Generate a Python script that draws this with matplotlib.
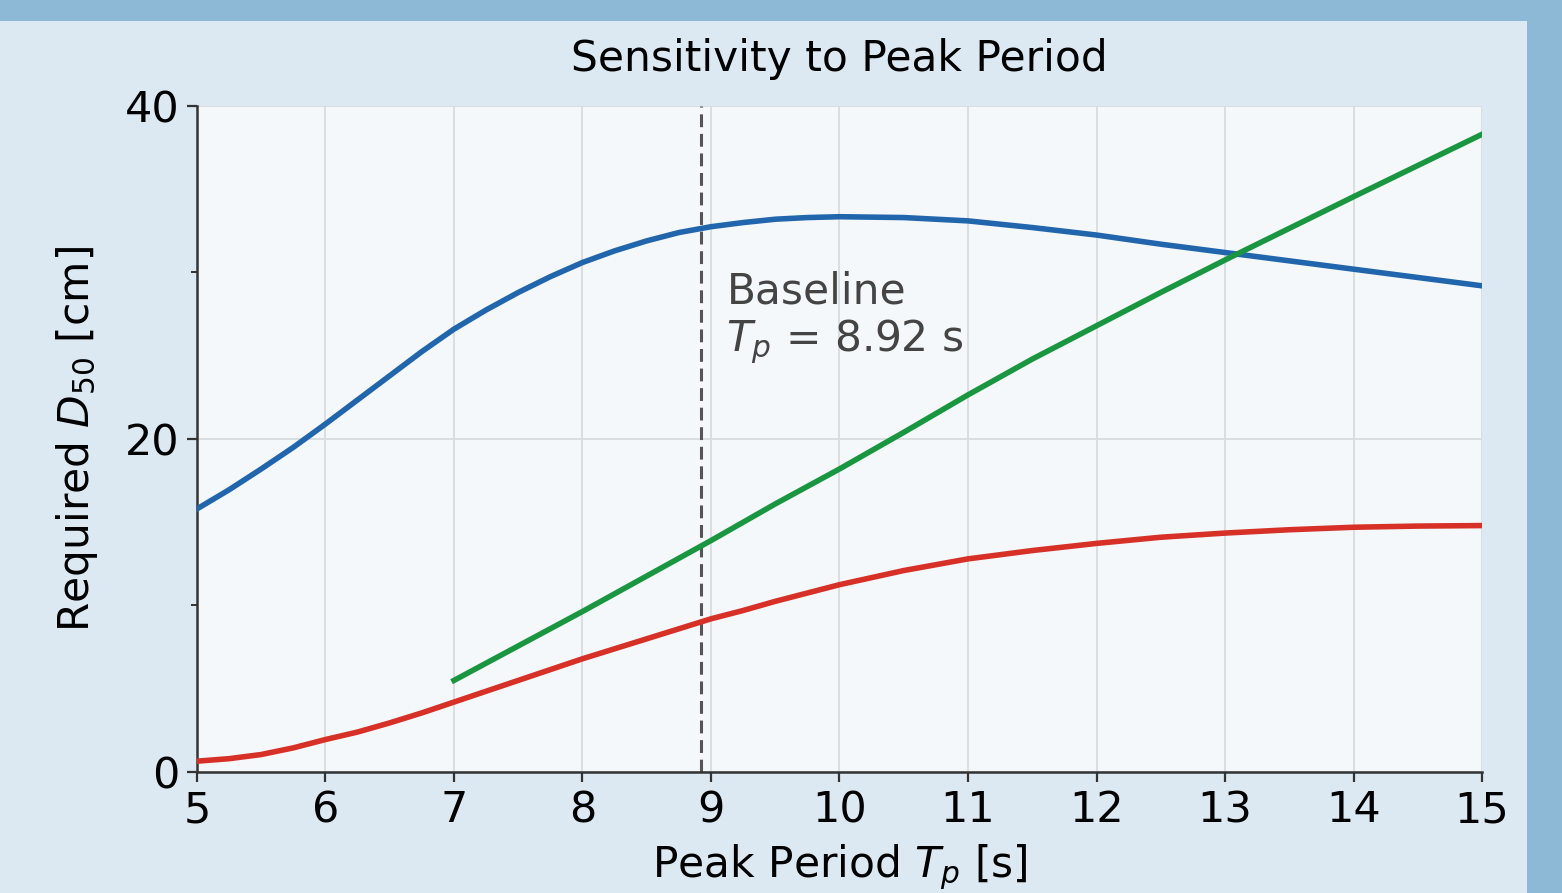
import matplotlib
matplotlib.use("Agg")
import matplotlib.pyplot as plt
from matplotlib.patches import Rectangle
from matplotlib.ticker import MultipleLocator

# peak period grid [s]
tp = [5.0, 5.25, 5.5, 5.75, 6.0, 6.25, 6.5, 6.75, 7.0, 7.25, 7.5, 7.75,
      8.0, 8.25, 8.5, 8.75, 9.0, 9.25, 9.5, 9.75, 10.0,
      10.5, 11.0, 11.5, 12.0, 12.5, 13.0, 13.5, 14.0, 14.5, 15.0]

# required D50 [cm] for each curve
d50_blue = [15.8, 16.95, 18.2, 19.5, 20.9, 22.35, 23.8, 25.25, 26.6, 27.75, 28.8, 29.75,
            30.6, 31.3, 31.9, 32.4, 32.75, 33.0, 33.2, 33.3, 33.35,
            33.3, 33.1, 32.7, 32.25, 31.7, 31.2, 30.7, 30.2, 29.7, 29.2]
d50_red = [0.65, 0.8, 1.05, 1.45, 1.95, 2.4, 2.95, 3.55, 4.2, 4.85, 5.5, 6.15,
           6.8, 7.4, 8.0, 8.6, 9.2, 9.7, 10.25, 10.75, 11.25,
           12.1, 12.8, 13.3, 13.73, 14.1, 14.35, 14.55, 14.7, 14.77, 14.8]

tp_green = [7.0, 8.0, 9.0, 9.5, 10.0, 10.5, 11.0, 11.5, 12.0, 12.5, 13.0, 14.0, 15.0]
d50_green = [5.5, 9.64, 13.9, 16.1, 18.2, 20.4, 22.65, 24.8, 26.8, 28.8, 30.75, 34.55, 38.3]

tp_base = 8.92

fig = plt.figure(figsize=(15.62, 8.93), dpi=100, facecolor="#8db8d6")
# light panel behind the plot (page frame shows on top and right)
panel = Rectangle((0, 0), 1527 / 1562, 872 / 893, transform=fig.transFigure,
                  facecolor="#dce8f2", edgecolor="none", zorder=-10)
fig.add_artist(panel)

ax = fig.add_axes([0.1261, 0.1355, 0.8227, 0.7458])
ax.set_facecolor("#f4f8fb")

ax.plot(tp, d50_blue, color="#2166ac", lw=4, zorder=3, solid_joinstyle="round")
ax.plot(tp_green, d50_green, color="#1a9641", lw=4, zorder=3)
ax.plot(tp, d50_red, color="#d73027", lw=4, zorder=3, solid_joinstyle="round")

ax.axvline(tp_base, color="#555555", ls=(0, (4.2, 2.2)), lw=2.2, zorder=2)
ax.text(tp_base + 0.2, 30.15, "Baseline\n$T_p$ = 8.92 s", fontsize=30.5,
        color="#444444", va="top", ha="left", linespacing=1.15)

ax.set_xlim(5, 15)
ax.set_ylim(0, 40)
ax.xaxis.set_major_locator(MultipleLocator(1))
ax.yaxis.set_major_locator(MultipleLocator(20))
ax.yaxis.set_minor_locator(MultipleLocator(10))
ax.grid(True, which="major", color="#d8dcdf", lw=1.3)
ax.set_axisbelow(True)

for side in ["top", "right"]:
    ax.spines[side].set_visible(False)
for side in ["left", "bottom"]:
    ax.spines[side].set_color("#333333")
    ax.spines[side].set_linewidth(1.8)

ax.tick_params(which="major", labelsize=31, length=7.5, width=1.6, color="#333333", pad=5)
ax.tick_params(which="minor", length=4, width=1.4, color="#333333")

ax.set_title("Sensitivity to Peak Period", fontsize=30.5, pad=25.5)
ax.set_xlabel("Peak Period $T_p$ [s]", fontsize=30.5, labelpad=8)
ax.set_ylabel("Required $D_{50}$ [cm]", fontsize=30.5, labelpad=18)

fig.savefig("out.png", dpi=100, facecolor=fig.get_facecolor())
